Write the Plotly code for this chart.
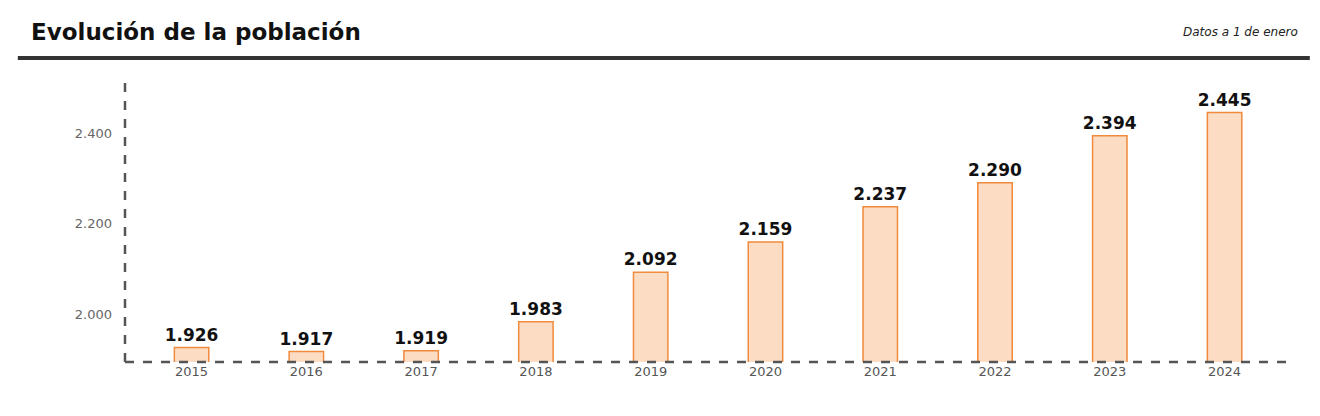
import plotly.graph_objects as go

years = ["2015","2016","2017","2018","2019","2020","2021","2022","2023","2024"]
population = [1926,1917,1919,1983,2092,2159,2237,2290,2394,2445]
labels = ["1.926","1.917","1.919","1.983","2.092","2.159","2.237","2.290","2.394","2.445"]
ytick_vals = [2000,2200,2400]
ytick_text = ["2.000","2.200","2.400"]

fig = go.Figure(go.Bar(
    x=years, y=population, width=0.3,
    marker=dict(color="#fddcc4", line=dict(color="#f08a3c", width=1.5)),
    text=labels, textposition="outside", cliponaxis=False, constraintext="none",
    textfont=dict(family="DejaVu Sans", size=17, color="#111"),
    texttemplate="<b>%{text}</b>",
))
fig.update_layout(
    width=1320, height=416, plot_bgcolor="white", paper_bgcolor="white",
    margin=dict(l=117, r=38, t=67, b=62, autoexpand=False), showlegend=False,
    font=dict(family="DejaVu Sans", color="#555"),
    xaxis=dict(range=[-0.58, 9.57], showgrid=False, showline=False, ticks="",
               tickfont=dict(size=13, color="#555"), automargin=False),
    yaxis=dict(range=[1894, 2528], tickvals=ytick_vals, ticktext=ytick_text,
               showgrid=False, zeroline=False, showline=False, ticks="",
               tickfont=dict(size=13, color="#666"), ticklabelstandoff=12,
               automargin=False),
    shapes=[
        dict(type="line", xref="paper", yref="paper", x0=0, x1=0, y0=0, y1=1,
             line=dict(color="#555", width=2.5, dash="dash")),
        dict(type="line", xref="paper", yref="paper", x0=0, x1=1, y0=0, y1=0,
             line=dict(color="#555", width=2.5, dash="dash")),
        dict(type="line", xref="paper", yref="paper", x0=-0.092, x1=1.017,
             y0=1.059, y1=1.059, line=dict(color="#333", width=4)),
    ],
    annotations=[
        dict(text="<b>Evolución de la población</b>", xref="paper", yref="paper",
             x=-0.082, y=1.15, xanchor="left", yanchor="middle", showarrow=False,
             font=dict(family="DejaVu Sans", size=23, color="#111")),
        dict(text="<i>Datos a 1 de enero</i>", xref="paper", yref="paper",
             x=1.0086, y=1.15, xanchor="right", yanchor="middle", showarrow=False,
             font=dict(family="DejaVu Sans", size=12, color="#222")),
    ],
)
fig.write_html("out.html")
